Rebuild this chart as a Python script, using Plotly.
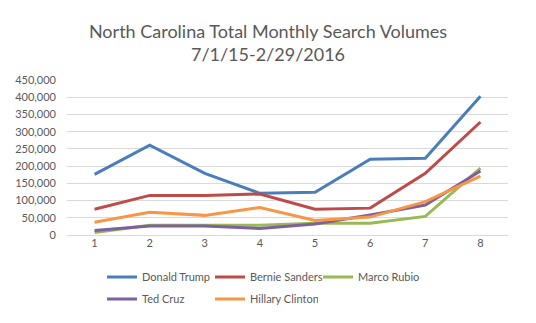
import plotly.graph_objects as go

months = [1, 2, 3, 4, 5, 6, 7, 8]
trump = [176000, 261000, 179000, 121000, 124000, 220000, 223000, 403000]
sanders = [75000, 115000, 115000, 119000, 75000, 78000, 179000, 328000]
rubio = [7000, 28000, 28000, 28000, 34000, 34000, 54000, 194000]
cruz = [13000, 26000, 26000, 19000, 32000, 58000, 87000, 186000]
clinton = [37000, 66000, 57000, 80000, 42000, 52000, 97000, 171000]
y_ticks = [0, 50000, 100000, 150000, 200000, 250000, 300000, 350000, 400000, 450000]

series = [
    ("Donald Trump", trump, "#4a7ebb", "legend"),
    ("Bernie Sanders", sanders, "#be4b48", "legend"),
    ("Marco Rubio", rubio, "#98b954", "legend"),
    ("Ted Cruz", cruz, "#7d60a0", "legend2"),
    ("Hillary Clinton", clinton, "#f79646", "legend2"),
]

fig = go.Figure()
for name, vals, color, lg in series:
    fig.add_trace(go.Scatter(
        x=months, y=vals, name=name, mode="lines",
        line=dict(color=color, width=3), legend=lg,
    ))

font_family = "Lato, 'Noto Sans', sans-serif"
legend_common = dict(
    orientation="h", xanchor="left", yanchor="middle",
    font=dict(family=font_family, size=11, color="#595959"),
    entrywidth=63, entrywidthmode="pixels", itemwidth=30,
    bgcolor="rgba(0,0,0,0)", traceorder="normal",
)

H = 323
plot_top, plot_bot = 80, 235
ph = plot_bot - plot_top

def ypos(py):
    return (plot_bot - py) / ph

fig.update_layout(
    width=536, height=H,
    margin=dict(l=67, r=28, t=plot_top, b=H - plot_bot, autoexpand=False),
    paper_bgcolor="white", plot_bgcolor="white",
    title=dict(
        text="North Carolina Total Monthly Search Volumes<br>7/1/15-2/29/2016",
        x=0.5, xanchor="center", y=1 - 38 / H, yanchor="top",
        font=dict(family=font_family, size=18, color="#595959"),
    ),
    xaxis=dict(
        type="linear", range=[0.5, 8.5], tickvals=months,
        showgrid=False, zeroline=False, showline=False, ticks="",
        tickfont=dict(family=font_family, size=11, color="#595959"),
    ),
    yaxis=dict(
        range=[0, 450000], tickvals=y_ticks, tickformat=",d",
        showgrid=True, gridcolor="#d9d9d9", gridwidth=1,
        zeroline=True, zerolinecolor="#d9d9d9", zerolinewidth=1,
        showline=False, ticks="", ticklabelstandoff=10,
        tickfont=dict(family=font_family, size=11, color="#595959"),
    ),
    legend=dict(x=(102 - 67) / 441, y=ypos(277), **legend_common),
    legend2=dict(x=(102 - 67) / 441, y=ypos(299), **legend_common),
    showlegend=True,
)

fig.write_html("out.html")
